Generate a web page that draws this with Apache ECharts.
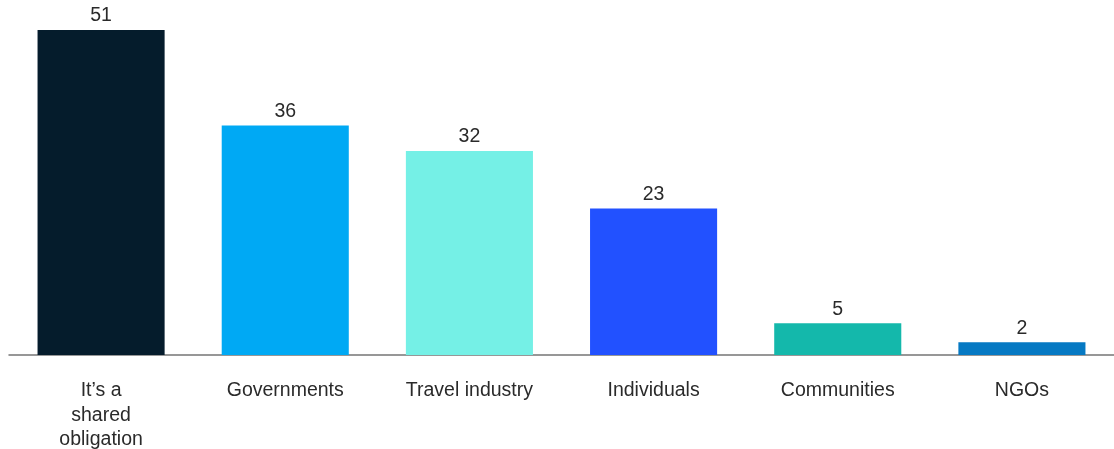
<!DOCTYPE html>
<html>
<head>
<meta charset="utf-8">
<script src="https://cdn.jsdelivr.net/npm/echarts@6/dist/echarts.min.js"></script>
<style>
  html, body { margin: 0; padding: 0; background: #fff; }
  #chart { width: 1114px; height: 449px; }
</style>
</head>
<body>
<div id="chart"></div>
<script>
// Who is responsible for sustainable travel (% of respondents)
const categories = ["It\u2019s a\nshared\nobligation", "Governments", "Travel industry", "Individuals", "Communities", "NGOs"];
const values = [51, 36, 32, 23, 5, 2];
const barColors = ["#051c2c", "#00a9f4", "#75f0e6", "#2251ff", "#14b8ab", "#0679c3"];

const chart = echarts.init(document.getElementById("chart"), null, { renderer: "canvas" });
chart.setOption({
  animation: false,
  textStyle: { fontFamily: "Liberation Sans, Arial, sans-serif" },
  grid: { left: 9, right: 0, top: 30, bottom: 94, containLabel: false, outerBoundsMode: "none" },
  xAxis: {
    type: "category",
    data: categories,
    axisLine: { lineStyle: { color: "#757575", width: 1.5 } },
    axisTick: { show: false },
    axisLabel: {
      color: "#2a2a2a",
      fontSize: 19.5,
      lineHeight: 24.5,
      margin: 23.5,
      interval: 0
    }
  },
  yAxis: {
    type: "value",
    min: 0,
    max: 51,
    show: false,
    splitLine: { show: false }
  },
  series: [{
    type: "bar",
    barWidth: "69%",
    data: values.map((v, i) => ({ value: v, itemStyle: { color: barColors[i] } })),
    label: {
      show: true,
      position: "top",
      distance: 4,
      color: "#2a2a2a",
      fontSize: 19.5
    }
  }]
});
</script>
</body>
</html>
